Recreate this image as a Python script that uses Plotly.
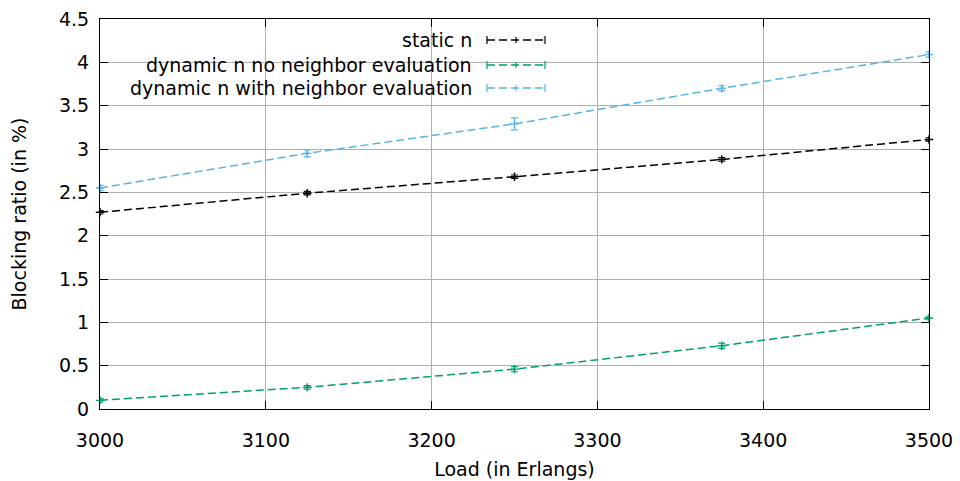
import plotly.graph_objects as go

# Offered load (Erlangs)
load = [3000, 3125, 3250, 3375, 3500]

# Blocking ratio (%) and error half-widths for each strategy
static_n = [2.27, 2.49, 2.68, 2.88, 3.11]
static_n_err = [0.02, 0.02, 0.02, 0.02, 0.02]

dyn_no_nb = [0.10, 0.25, 0.46, 0.73, 1.05]
dyn_no_nb_err = [0.02, 0.02, 0.03, 0.03, 0.02]

dyn_with_nb = [2.55, 2.95, 3.29, 3.70, 4.09]
dyn_with_nb_err = [0.03, 0.04, 0.07, 0.03, 0.03]

series_names = ["static n", "dynamic n no neighbor evaluation",
                "dynamic n with neighbor evaluation"]
colors = ["#000000", "#009e73", "#56b4e9"]

x_ticks = [3000, 3100, 3200, 3300, 3400, 3500]
y_ticks = [0, 0.5, 1, 1.5, 2, 2.5, 3, 3.5, 4, 4.5]

FONT = "DejaVu Sans"
FS = 19

# Plot area in pixels (used to place the key in paper coordinates)
W, H = 960, 481
ML, MR, MT, MB = 100, 31, 19, 72
PW, PH = W - ML - MR, H - MT - MB


def px_x(p):
    return (p - ML) / PW


def px_y(p):
    return (H - MB - p) / PH


fig = go.Figure()

for name, ys, errs, col in zip(series_names,
                               [static_n, dyn_no_nb, dyn_with_nb],
                               [static_n_err, dyn_no_nb_err, dyn_with_nb_err],
                               colors):
    fig.add_trace(go.Scatter(
        x=load, y=ys, name=name, mode="lines+markers",
        line=dict(color=col, width=1.5, dash="8px,4px"),
        marker=dict(symbol="cross-thin", size=6, line=dict(color=col, width=1.4)),
        error_y=dict(type="data", array=errs, visible=True, color=col,
                     thickness=1.2, width=3.5),
        showlegend=False, cliponaxis=False,
    ))

# Key in the upper middle: right-aligned labels with line samples to the right
key_rows_px = [40, 65, 88]
for name, col, yp in zip(series_names, colors, key_rows_px):
    yk = px_y(yp)
    fig.add_annotation(xref="paper", yref="paper", x=px_x(474), y=yk,
                       xanchor="right", yanchor="middle", showarrow=False,
                       text=name, font=dict(family=FONT, size=FS, color="#000"))
    x0, x1 = px_x(487), px_x(545)
    fig.add_shape(type="line", xref="paper", yref="paper", x0=x0, x1=x1,
                  y0=yk, y1=yk, line=dict(color=col, width=1.5, dash="8px,4px"))
    dy = 4 / PH
    for xe in (x0, x1):
        fig.add_shape(type="line", xref="paper", yref="paper", x0=xe, x1=xe,
                      y0=yk - dy, y1=yk + dy, line=dict(color=col, width=1.2))
    xm = (x0 + x1) / 2
    fig.add_shape(type="line", xref="paper", yref="paper", x0=xm, x1=xm,
                  y0=yk - 3 / PH, y1=yk + 3 / PH, line=dict(color=col, width=1.2))

axis_common = dict(
    showline=True, linecolor="#000", linewidth=1.2, mirror="ticks",
    ticks="inside", ticklen=8, tickcolor="#000", tickwidth=1,
    showgrid=True, gridcolor="#b0b0b0", gridwidth=1, zeroline=False,
    automargin=False,
    tickfont=dict(family=FONT, size=FS, color="#000"),
)

fig.update_xaxes(range=[3000, 3500], tickvals=x_ticks, ticklabelstandoff=14,
                 title=dict(text="Load (in Erlangs)", standoff=12,
                            font=dict(family=FONT, size=FS, color="#000")),
                 **axis_common)
fig.update_yaxes(range=[0, 4.5], tickvals=y_ticks, ticklabelstandoff=6,
                 title=dict(text="Blocking ratio (in %)", standoff=27,
                            font=dict(family=FONT, size=FS, color="#000")),
                 **axis_common)

fig.update_layout(
    width=W, height=H,
    margin=dict(l=ML, r=MR, t=MT, b=MB),
    plot_bgcolor="#fff", paper_bgcolor="#fff",
    font=dict(family=FONT, size=FS, color="#000"),
)

fig.write_html("out.html")
